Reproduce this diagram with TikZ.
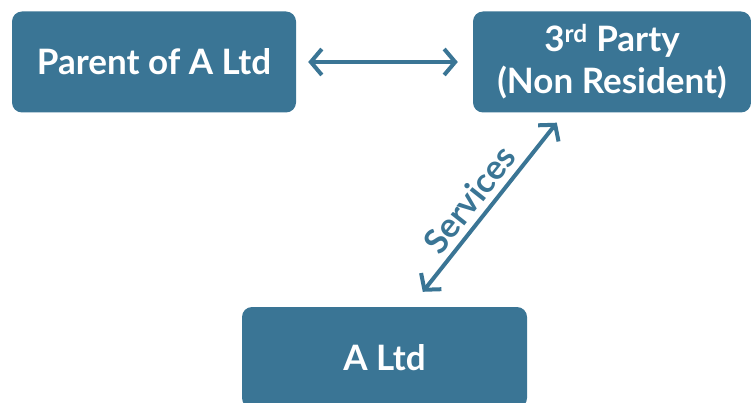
\documentclass[tikz,border=0pt]{standalone}
\usepackage{fontspec}
\setmainfont{Lato}
\usetikzlibrary{arrows.meta}
\definecolor{boxblue}{RGB}{58,117,149}
\begin{document}
\begin{tikzpicture}[x=1pt,y=1pt,
  entity/.style={fill=boxblue, rounded corners=10pt, text=white,
    font=\fontsize{35}{42}\selectfont\bfseries, align=center,
    inner sep=0pt, anchor=center},
  link/.style={draw=boxblue, line width=4pt,
    {Straight Barb[length=11pt,width=26pt,line width=4pt]}-{Straight Barb[length=11pt,width=26pt,line width=4pt]}}
]
\useasboundingbox (0,0) rectangle (751,402);
\clip (0,0) rectangle (751,402);
\node[entity, minimum width=284pt, minimum height=101pt] (parent) at (154,340) {Parent of A Ltd};
\node[entity, minimum width=278pt, minimum height=101pt] (third) at (612,340)
  {3\textsuperscript{rd} Party\\(Non Resident)};
\node[entity, minimum width=285pt, minimum height=101pt] (altd) at (384.5,44.5) {A Ltd};
\draw[link, shorten <=12pt, shorten >=15pt] (parent.east) -- (third.west);
\draw[link] ([shift={(181,15)}]altd.north west) -- ([shift={(84,-10)}]third.south west)
  node[pos=0.47, sloped, above=3pt, text=boxblue, font=\fontsize{34}{40}\selectfont\bfseries] (svc) {Services};
\end{tikzpicture}
\end{document}
